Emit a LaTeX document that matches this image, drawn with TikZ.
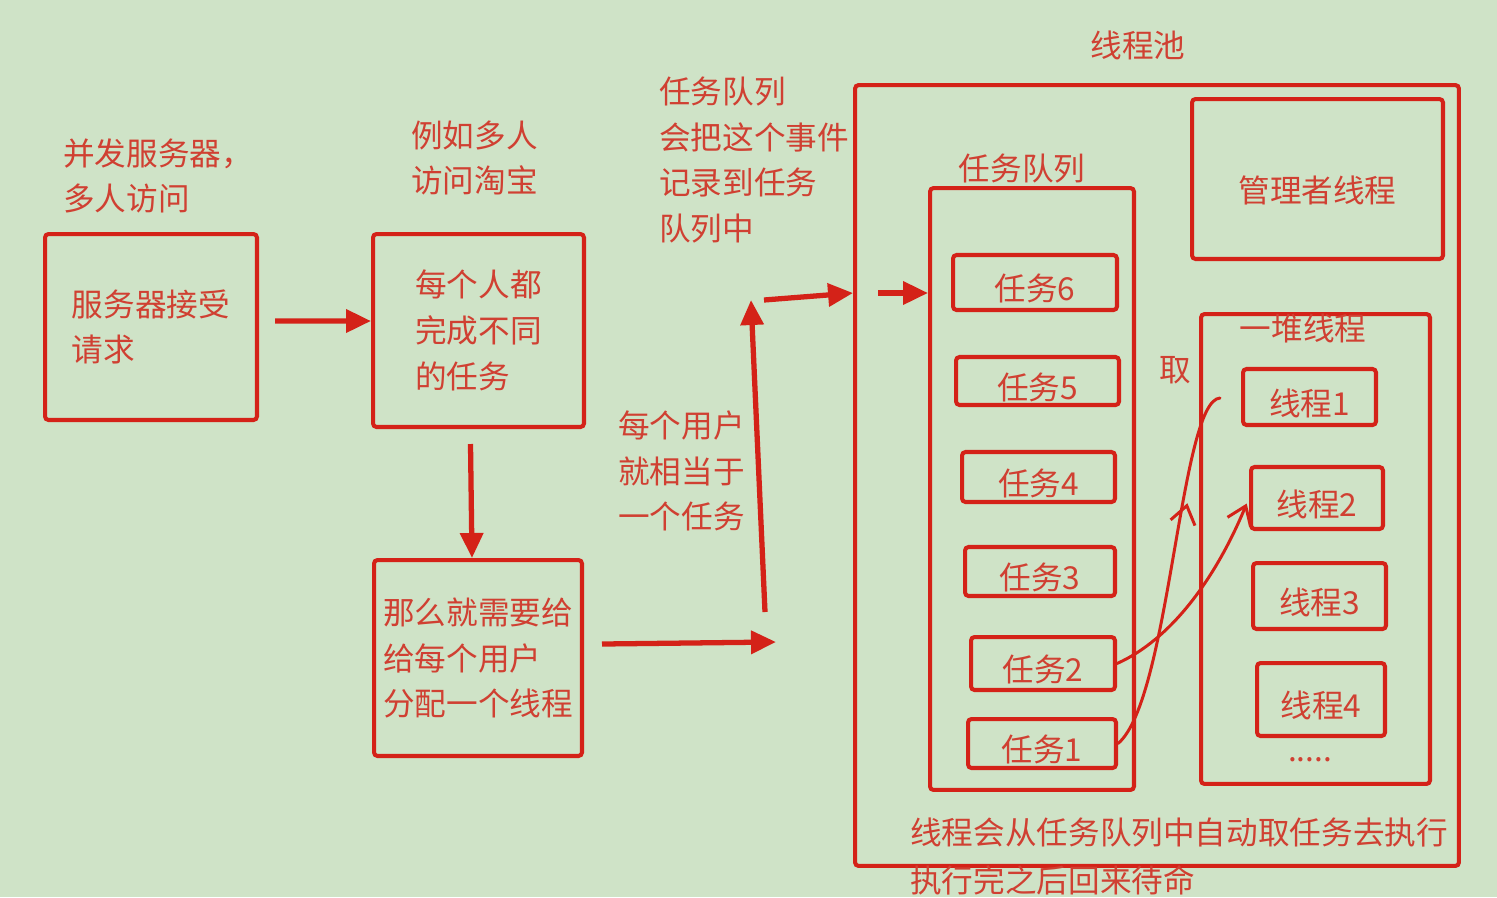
\documentclass[tikz,border=0pt]{standalone}
\usepackage{fontspec}
\newfontfamily\cjk{Noto Sans CJK SC}
\usetikzlibrary{arrows.meta,decorations.markings}
\definecolor{paper}{RGB}{207,227,199}
\definecolor{penred}{RGB}{212,34,24}
\definecolor{inkred}{RGB}{208,64,50}
\tikzset{
  box/.style={draw=penred, line width=2.3pt, rounded corners=2pt, inner sep=0pt,
    align=left, text=inkred, font=\cjk\fontsize{18}{26}\selectfont},
  item/.style={box, text height=22pt},
  note/.style={anchor=west, inner sep=0pt, align=left, text=inkred,
    font=\cjk\fontsize{18}{26}\selectfont},
  bigarrow/.style={draw=penred, line width=3pt, -{Triangle[length=0.5cm,width=0.45cm]}},
  pen/.style={draw=penred, color=penred, line width=1.7pt, line cap=round},
}

\begin{document}
\begin{tikzpicture}[x=0.02cm, y=-0.02cm]
    % Page and background
    \useasboundingbox (0,0) rectangle (1497,897);
    \clip (0,0) rectangle (1497,897);
    \fill[paper] (0,0) rectangle (1497,897);

    % Left column
    \node[note] (srvnote) at (63,176) {并发服务器，\\多人访问};
    \node[box, minimum width=4.24cm, minimum height=3.72cm] (srv) at (151,327) {服务器接受\\请求};
    \node[note] (eachnote) at (411,158) {例如多人\\访问淘宝};
    \node[box, minimum width=4.22cm, minimum height=3.86cm] (each) at (478.5,330.5) {每个人都\\完成不同\\的任务};
    \node[box, minimum width=4.16cm, minimum height=3.92cm] (alloc) at (478,658) {那么就需要给\\给每个用户\\分配一个线程};

    % Middle notes
    \node[note] (queuenote) at (659,160) {任务队列\\会把这个事件\\记录到任务\\队列中};
    \node[note] (usernote) at (618,471) {每个用户\\就相当于\\一个任务};

    % Thread pool
    \node[note, anchor=center] (pooltitle) at (1138,45) {线程池};
    \node[box, minimum width=12.08cm, minimum height=15.62cm] (pool) at (1157,475.5) {};
    \node[box, text height=28pt, minimum width=5.02cm, minimum height=3.2cm] (mgr) at (1317.5,179) {管理者线程};

    % Task queue
    \node[note, anchor=center] (queuetitle) at (1022,169) {任务队列};
    \node[box, minimum width=4.08cm, minimum height=12.04cm] (queue) at (1032,489) {};
    \node[item, minimum width=3.28cm, minimum height=1.1cm] (task6) at (1035,282.5) {任务6};
    \node[item, minimum width=3.26cm, minimum height=0.96cm] (task5) at (1037.5,381) {任务5};
    \node[item, minimum width=3.06cm, minimum height=1.0cm] (task4) at (1038.5,477) {任务4};
    \node[item, minimum width=3.0cm, minimum height=0.98cm] (task3) at (1040,571.5) {任务3};
    \node[item, minimum width=2.88cm, minimum height=1.06cm] (task2) at (1043,663.5) {任务2};
    \node[item, minimum width=2.96cm, minimum height=0.98cm] (task1) at (1042,743.5) {任务1};

    % Threads
    \node[box, minimum width=4.58cm, minimum height=9.4cm] (heap) at (1315.5,549) {};
    \node[note, anchor=center] (heaptitle) at (1303,328) {一堆线程};
    \node[item, minimum width=2.66cm, minimum height=1.12cm] (th1) at (1309.5,397) {线程1};
    \node[item, minimum width=2.64cm, minimum height=1.24cm] (th2) at (1317,498) {线程2};
    \node[item, minimum width=2.66cm, minimum height=1.32cm] (th3) at (1319.5,596) {线程3};
    \node[item, minimum width=2.56cm, minimum height=1.46cm] (th4) at (1321,699.5) {线程4};
    \node[note, anchor=center] (more) at (1310,760) {.....};
    \node[note, anchor=center] (take) at (1175,370) {取};

    % Bottom note
    \node[note] (autonote) at (910,833) {线程会从任务队列中自动取任务去执行};
    \node[note] (backnote) at (910,880) {执行完之后回来待命};

    % Free ends of the bent arrow
    \coordinate (low) at (776,642);
    \coordinate (userfoot) at (765,612);
    \coordinate (usertop) at (751,300);
    \coordinate (gofrom) at (764,300);
    \coordinate (queuein) at (878,293);

    % Big arrows
    \draw[bigarrow] ([xshift=0.32cm,yshift=0.12cm]srv.east) -- ([yshift=0.19cm]each.west);
    \draw[bigarrow] ([xshift=-0.16cm,yshift=-0.3cm]each.south) -- ([xshift=-0.12cm]alloc.north);
    \draw[bigarrow] ([xshift=0.36cm,yshift=0.28cm]alloc.east) -- (low);
    \draw[bigarrow] (userfoot) -- (usertop);
    \draw[bigarrow] (gofrom) -- (pool.west |- queuein);
    \draw[bigarrow] (queuein) -- (queue.west |- queuein);

    % Hand drawn strokes
    \draw[pen, shorten >=0.42cm, postaction={decorate, decoration={markings,
      mark=at position 0.67 with {\arrow{Straight Barb[length=0.35cm,width=0.5cm]}}}}]
      (task1.east) .. controls (1170,700) and (1180,400) .. (th1.west);
    \draw[pen, shorten >=0.12cm, -{Straight Barb[length=0.35cm,width=0.5cm]}]
      (task2.east) .. controls (1170,640) and (1215,580) .. (th2.west);
\end{tikzpicture}
\end{document}
